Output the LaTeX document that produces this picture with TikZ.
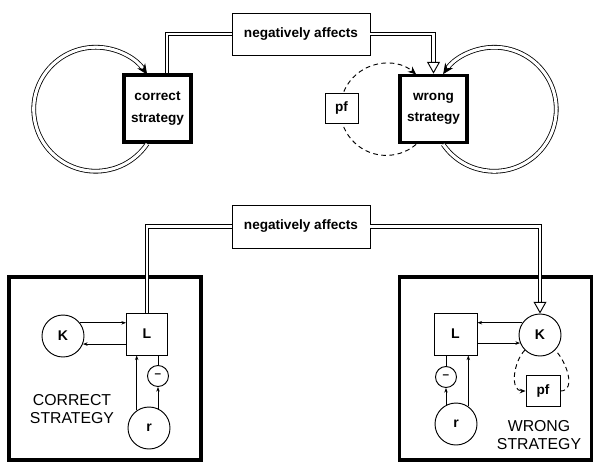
\documentclass[tikz,border=0pt]{standalone}
\usepackage{fontspec}
\setmainfont{Liberation Sans}
\usetikzlibrary{arrows.meta,calc}
\newdimen\pxu \pxu=0.03cm

\begin{document}
\begin{tikzpicture}[x=\pxu, y=\pxu,
    tag/.style={rectangle, draw, line width=0.8pt, fill=white, inner sep=0pt,
        font=\fontsize{11.6}{13}\selectfont\bfseries, align=center},
    stratbox/.style={tag, line width=3.2pt, minimum width=67\pxu, minimum height=67\pxu,
        font=\fontsize{11.6}{18}\selectfont\bfseries},
    panel/.style={rectangle, draw, line width=3.2pt, minimum width=192\pxu, minimum height=183\pxu},
    var/.style={circle, draw, line width=0.8pt, minimum size=42\pxu, inner sep=0pt,
        font=\fontsize{12}{14}\selectfont\bfseries},
    sign/.style={circle, draw, line width=0.8pt, minimum size=21\pxu, inner sep=0pt, font=\bfseries},
    caption/.style={font=\fontsize{13.5}{16}\selectfont, align=center},
    dbl/.style={draw=white, line width=2.4pt, preaction={draw=black, line width=4pt}},
    selfloop/.style={double, double distance=2.6pt, line width=0.7pt, -{Stealth[length=9pt, width=8pt]}},
    openhead/.style={line width=0.8pt, -{Triangle[open, length=10pt, width=11pt]}},
    fb/.style={line width=0.8pt, dash pattern=on 4pt off 3pt},
    link/.style={line width=0.7pt, -{Stealth[length=4pt, width=3pt]}}
]
    \useasboundingbox (0,0) rectangle (593,463);

    % upper diagram
    \node[tag, minimum width=138\pxu, minimum height=42\pxu] (neg1) at (301,429) {negatively affects};
    \node[stratbox] (correct) at (157.5,354.5) {correct\\strategy};
    \node[stratbox] (wrong) at (433.5,354) {wrong\\strategy};

    \draw[selfloop] ($(correct.south west)+(25,0)$) arc[start angle=-34, end angle=-326, radius=62];
    \draw[selfloop] ($(wrong.south west)+(45,0)$) arc[start angle=-145.5, end angle=145.5, radius=62];
    \draw[fb, -{Stealth[length=7pt, width=6pt]}] ($(wrong.south west)+(18,0)$)
        arc[start angle=-49.5, end angle=-310.5, radius=46];
    \node[tag, minimum width=33\pxu, minimum height=30\pxu] (pf1) at (341.5,355) {pf};

    \coordinate (tip1) at ($(wrong.north)+(0,11)$);
    \draw[dbl] (neg1.west) -| ($(correct.north)+(9.5,0)$);
    \draw[dbl] (neg1.east) -| (tip1);
    \draw[openhead] ($(tip1)+(0,1)$) -- (wrong.north);

    % lower diagram
    \node[panel] (leftpanel) at (105,94.5) {};
    \node[panel] (rightpanel) at (495.5,94.5) {};
    \node[tag, minimum width=138\pxu, minimum height=43\pxu] (neg2) at (301,236.5) {negatively affects};

    % correct strategy
    \node[var] (K1) at (63,127) {K};
    \node[tag, minimum width=41\pxu, minimum height=42\pxu, font=\fontsize{12}{14}\selectfont\bfseries]
        (L1) at (147,129) {L};
    \node[sign] (minus1) at (158,87) {--};
    \node[var] (r1) at (149,35) {r};
    \node[caption] (cap1) at (72,54) {CORRECT\\STRATEGY};

    \draw[link] (K1.38) -- (K1.38 -| L1.west);
    \draw[link] (L1.west |- K1.-22) -- (K1.-22);
    \draw[link] (r1.125) -- (r1.125 |- L1.south);
    \draw[line width=0.7pt] (minus1.north) -- (minus1.north |- L1.south);
    \draw[link] (minus1.south |- r1.65) -- (minus1.south);
    \draw[dbl] (neg2.west) -| (L1.north);

    % wrong strategy
    \node[tag, minimum width=43\pxu, minimum height=42\pxu, font=\fontsize{12}{14}\selectfont\bfseries]
        (L2) at (455.5,129) {L};
    \node[var] (K2) at (540,128) {K};
    \node[sign] (minus2) at (446,86) {--};
    \node[var] (r2) at (456,39) {r};
    \node[tag, minimum width=34\pxu, minimum height=31\pxu] (pf2) at (543,72) {pf};
    \node[caption] (cap2) at (539,28) {WRONG\\STRATEGY};

    \draw[link] (K2.145) -- (K2.145 -| L2.east);
    \draw[link] (L2.east |- K2.202) -- (K2.202);
    \draw[line width=0.7pt] (minus2.north) -- (minus2.north |- L2.south);
    \draw[link] (minus2.south |- r2.118) -- (minus2.south);
    \draw[link] (r2.55) -- (r2.55 |- L2.south);
    \coordinate (tip2) at ($(K2.north)+(0,11)$);
    \draw[dbl] (neg2.east) -| (tip2);
    \draw[openhead] ($(tip2)+(0,1)$) -- (K2.north);
    \draw[fb, -{Stealth[length=5pt, width=4pt]}] (K2.225) to[out=225, in=180] (pf2.west);
    \draw[fb] (pf2.east) to[out=0, in=-45] (K2.-45);
\end{tikzpicture}
\end{document}
